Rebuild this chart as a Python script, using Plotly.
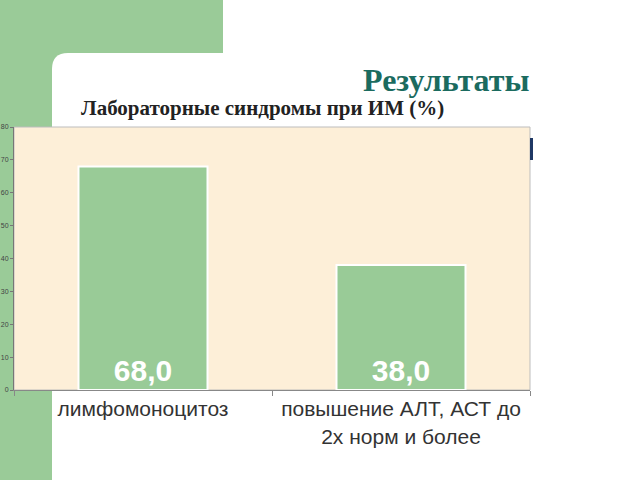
import plotly.graph_objects as go

categories = ["лимфомоноцитоз", "повышение АЛТ, АСТ до<br>2х норм и более"]
values = [68.0, 38.0]
labels = [f"{v:.1f}".replace(".", ",") for v in values]
y_ticks = [0, 10, 20, 30, 40, 50, 60, 70, 80]

W, H = 640, 480
L, R, T, B = 14, 110, 127, 90
pw, ph = W - L - R, H - T - B

def px(x):
    return (x - L) / pw

def py(y):
    return (H - B - y) / ph

fig = go.Figure()
fig.add_trace(go.Bar(
    x=categories, y=values, text=labels,
    textposition="inside", insidetextanchor="start",
    textfont=dict(family="Arial, Liberation Sans", size=30, color="white", weight="bold"),
    marker=dict(color="#99CB97", line=dict(color="white", width=2)),
    textangle=0, cliponaxis=False,
))

rad = 16
x0, y0 = px(52), py(53)
x1, y1 = px(W), py(H)
rx, ry = rad / pw, rad / ph
white_path = (f"M {x0},{y1} L {x0},{y0 - ry} Q {x0},{y0} {x0 + rx},{y0} "
              f"L {x1},{y0} L {x1},{y1} Z")

shapes = [
    dict(type="rect", xref="paper", yref="paper", x0=px(0), x1=px(223), y0=py(0), y1=py(H),
         fillcolor="#9ACB98", line=dict(width=0), layer="below"),
    dict(type="path", xref="paper", yref="paper", path=white_path,
         fillcolor="white", line=dict(width=0), layer="below"),
    dict(type="rect", xref="paper", yref="paper", x0=0, x1=1, y0=0, y1=1,
         fillcolor="#FDEFD8", line=dict(color="#BDBDBD", width=1), layer="below"),
    dict(type="rect", xref="paper", yref="paper", x0=px(530), x1=px(533), y0=py(138), y1=py(160),
         fillcolor="#1F3864", line=dict(width=0), layer="above"),
]

fig.update_layout(
    width=W, height=H,
    margin=dict(l=L, r=R, t=T, b=B, autoexpand=False),
    paper_bgcolor="white", plot_bgcolor="rgba(0,0,0,0)",
    bargap=0.5, showlegend=False,
    shapes=shapes,
    annotations=[
        dict(text="<b>Результаты</b>", xref="paper", yref="paper", x=px(531), y=py(80),
             xanchor="right", yanchor="middle", showarrow=False,
             font=dict(family="Liberation Serif, Times New Roman", size=32, color="#1B6B5F")),
        dict(text="<b>Лабораторные синдромы при ИМ (%)</b>", xref="paper", yref="paper",
             x=px(79), y=py(108), xanchor="left", yanchor="middle", showarrow=False,
             font=dict(family="Liberation Serif, Times New Roman", size=21, color="#222222")),
    ],
    xaxis=dict(showline=True, linecolor="#888888", ticks="outside", tickson="boundaries",
               ticklen=5, tickcolor="#888888", automargin=False,
               tickfont=dict(family="Arial, Liberation Sans", size=21, color="#333333")),
    yaxis=dict(range=[0, 80], tickvals=y_ticks, showgrid=False, showline=True,
               linecolor="#777777", ticks="outside", ticklen=3, tickcolor="#777777",
               automargin=False, zeroline=False,
               tickfont=dict(family="Arial, Liberation Sans", size=7, color="#444444")),
)

fig.write_html("out.html")
